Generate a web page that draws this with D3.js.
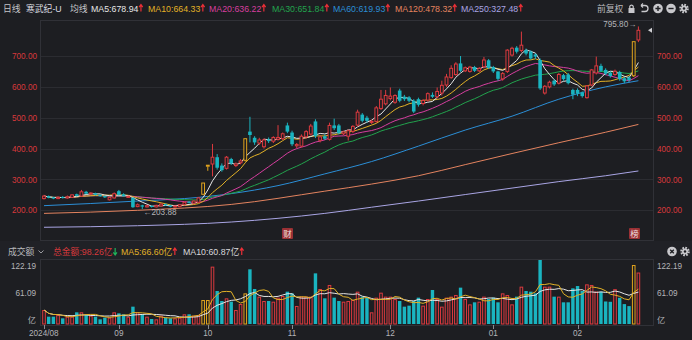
<!DOCTYPE html>
<html><head><meta charset="utf-8">
<script src="https://cdn.jsdelivr.net/npm/d3@7"></script>
<style>
html,body{margin:0;padding:0;background:#1d1e22;}
svg{display:block;}
text{font-family:"Liberation Sans","Noto Sans CJK SC",sans-serif;}
</style></head><body>
<svg id="chart" width="692" height="340"></svg>
<script>
// Daily bars, 2024/08 – 2025/02 (前复权)
const open  = [238,246,242,238,243,240,242,252,246,260,253,255,250,246,234,240,262,252,242,240,
  212,216,211,214,211,214,220,216,211,212,218,228,223,226,252,346.1,350,372,345,336,
  366,345,354,362,455,435,418,406,430,424,430,432,475,452,409,408,438,447,488,427,
  440,430,475,475,448,440,456,476,510,500,485,488,530,545,562,550,588,568,566,555,
  560,546,557,574,568,580,606,630,640,676,652,650,664,652,665,686,664,650,626,650,
  703,727,718,719,714,705,687,580,600,620,612,638,640,590,590,582,565,606,645,668,
  655,645,640,648,628,630,636,752];
const high  = [250,248,244,245,246,248,252,254,266,263,258,257,252,248,244,258,266,255,248,242,
  222,218,218,216,218,223,222,218,216,220,228,230,232,243,288.4,346.1,415,382,352,376,
  370,355,366,432,503,440,435,433,436,440,476,452,484,458,418,446,460,480,495,443,
  446,484,497,480,458,462,476,526,515,506,494,538,590,590,598,576,594,574,570,560,
  565,560,582,582,598,620,642,670,680,700,666,668,668,664,697,690,668,652,648,722,
  730,732,779,724,718,708,692,606,620,624,645,642,645,594,595,585,606,658,698,675,
  660,650,656,652,632,634,746.4,795.8];
const low   = [235,239,236,236,238,238,240,245,244,252,250,248,244,240,232,238,248,244,240,208,
  210,203.88,209,209,209,212,214,210,209,210,216,222,221,224,250,328,310,332,325,332,
  347,340,349,358,420,412,412,400,418,418,426,428,450,408,402,404,432,442,434,420,
  428,426,460,446,444,426,450,472,485,484,480,484,525,540,556,545,550,554,550,515,
  536,540,552,564,562,572,600,626,636,648,648,646,648,648,660,658,645,620,620,645,
  698,708,712,702,688,690,590,575,595,603,608,620,608,560,570,565,562,602,640,648,
  638,630,636,620,612,615,632,745];
const close = [246,241,238,242,240,244,250,247,260,254,256,250,246,242,242,254,250,246,245,210,
  218,212,215,211,216,220,216,212,214,218,226,224,230,240.3,288.4,346.1,372,338,330,372,
  352,350,360,432,444,420,428,428,424,436,436,448,455,414,413,440,455,473,440,438,
  432,475,466,450,454,458,472,518,490,490,488,532,560,572,570,572,555,560,555,520,
  542,556,578,568,585,605,632,660,674,652,662,664,652,660,687,662,650,626,643,719,
  725,714,735,708,692,698,595,601.8,615,608,640,625,612,575,578,570,603.1,655,668,652,
  643,635,650.6,625,618,622,746.4,783.3];
// 成交额, 亿元
const volume = [26.7,14,14,17.2,10.8,14,14,22.3,22.3,17.2,15.9,14,8.9,12.1,12.1,22.3,20.4,18.5,14,33.1,
  22.3,18.5,14,9.5,8.9,15.9,12.1,10.8,10.8,12.1,18.5,18.5,15.9,17.2,45.8,45.8,109.5,63,43.9,49,
  42.6,26.7,38.2,58.5,104.4,66.8,52.2,43.9,43.9,42.6,50.3,53.5,61.7,58.5,34.4,52.2,52.2,52.2,96.7,66.8,
  49,74.5,50.3,43.9,42.6,43.9,45.8,61.7,52.2,50.3,22.3,50.3,59.8,52.2,52.2,47.7,43.9,33.1,35,43.9,
  50.3,35,47.7,64.9,47.7,33.1,50.3,52.2,55.4,69.4,47.7,37.5,41.4,42.6,52.2,47.7,50.3,41.4,58.5,55.4,
  37.5,52.2,71.3,63,61.7,58.5,122.19,71.3,71.3,52.2,52.2,41.4,41.4,68.1,72.5,63,75.7,74.5,62,61.8,
  43,42.4,66.5,50,38,34.14,112.6,98.26];
// 涨停 days (drawn in gold)
const limitUpDays = [34,35,43,126];

// long moving averages, read at these bar indices
const ma60Idx  = [0,10,20,30,40,50,60,70,80,90,100,110,120,127];
const ma60Val  = [215,222,230,238,254,280,318,358,408,460,505,560,600,619.93];
const ma120Idx = [0,20,40,60,70,80,90,100,110,120,127];
const ma120Val = [190,200,219,262,285,312,348,384,419,453,478.32];
const ma250Idx = [0,20,40,60,70,80,90,100,110,120,127];
const ma250Val = [145,150,162,190,210,230,251,272,293,312,327.48];

const monthTickIdx = [0,16,35,53,74,96,114];
const monthLabels = ['2024/08','09','10','11','12','01','02'];
const priceTicks = [200,300,400,500,600,700];
const volTicks = [0,61.09,122.19];

const C = {
  bg:'#1d1e22', grid:'#2b2c31', frame:'#303137',
  up:'#dc3a3f', down:'#1ab4c0', gold:'#e0a31e',
  axisRed:'#d8393c', label:'#b4b4b8', arrowUp:'#ec2f37', arrowDown:'#1fb35a',
  ma5:'#e6e6e6', ma10:'#e2b126', ma20:'#d63e9f', ma30:'#22a34d',
  ma60:'#2b8ed6', ma120:'#e3835f', ma250:'#a9a5e4'
};
const FS_HEAD = 8.8, FS_AXIS = 8.2;

const svg = d3.select('#chart');
const N = close.length;
const idx = d3.range(N);
const plot = {l:40, r:653, t:20, b:240};
const vplot = {t:260, b:324};

const x = d3.scaleLinear().domain([0, N-1]).range([44, 638.4]);
const y = d3.scaleLinear().domain([200, 700]).range([210.3, 56]);
const yv = d3.scaleLinear().domain([0, 122.19]).range([vplot.b, vplot.t]);

function movingAvg(arr, n) {
  return arr.map((_, i) => d3.mean(arr.slice(Math.max(0, i - n + 1), i + 1)));
}
const ma5 = movingAvg(close, 5), ma10 = movingAvg(close, 10),
      ma20 = movingAvg(close, 20), ma30 = movingAvg(close, 30);
const vma5 = movingAvg(volume, 5), vma10 = movingAvg(volume, 10);

// panels
svg.append('rect').attr('x',0).attr('y',241).attr('width',692).attr('height',19).attr('fill','#202126');

const g = svg.append('g');
g.selectAll('.pg').data(priceTicks).enter().append('line')
  .attr('x1', plot.l).attr('x2', plot.r)
  .attr('y1', d => Math.round(y(d)) + 0.5).attr('y2', d => Math.round(y(d)) + 0.5)
  .attr('stroke', C.grid);
function frame(t, b) {
  g.append('rect').attr('x', plot.l + 0.5).attr('y', t + 0.5)
    .attr('width', plot.r - plot.l).attr('height', b - t)
    .attr('fill', 'none').attr('stroke', C.frame);
}
frame(plot.t, plot.b);
frame(vplot.t - 1, vplot.b + 1);

// price axis labels (both sides)
const axL = d3.axisLeft(y).tickValues(priceTicks).tickSize(0).tickPadding(0).tickFormat(d => d.toFixed(2));
const axR = d3.axisRight(y).tickValues(priceTicks).tickSize(0).tickPadding(0).tickFormat(d => d.toFixed(2));
function styleAxis(sel, color) {
  sel.select('.domain').remove();
  sel.selectAll('text').attr('fill', color).attr('font-size', FS_AXIS)
    .attr('font-family', '"Liberation Sans",sans-serif');
}
svg.append('g').attr('transform', 'translate(37,0)').call(axL).call(s => styleAxis(s, C.axisRed));
svg.append('g').attr('transform', 'translate(657,0)').call(axR).call(s => styleAxis(s, C.axisRed));

// volume axis labels
const vfmt = d => d === 0 ? '亿' : d.toFixed(2);
const vLabelY = d => d === 0 ? yv(d) - 4 : (d === 122.19 ? yv(d) + 6 : yv(d) + 1);
[[36,'end'],[657,'start']].forEach(([xx, anchor]) => {
  svg.append('g').selectAll('text').data(volTicks).enter().append('text')
    .attr('x', xx).attr('y', vLabelY).attr('dy', '0.35em')
    .attr('text-anchor', anchor).attr('fill', C.label).attr('font-size', FS_AXIS)
    .text(vfmt);
});

// month ticks and labels
svg.append('g').selectAll('line').data(monthTickIdx).enter().append('line')
  .attr('x1', d => Math.round(x(d)) + 0.5).attr('x2', d => Math.round(x(d)) + 0.5)
  .attr('y1', vplot.b + 1).attr('y2', vplot.b + 5).attr('stroke', '#8a8a90');
svg.append('g').selectAll('text').data(monthTickIdx).enter().append('text')
  .attr('x', (d, k) => k === 0 ? 29 : x(d))
  .attr('y', 336).attr('text-anchor', (d, k) => k === 0 ? 'start' : 'middle')
  .attr('fill', C.label).attr('font-size', FS_AXIS)
  .text((d, k) => monthLabels[k]);

// candle colour
const isLimit = i => limitUpDays.includes(i);
const colorOf = i => isLimit(i) ? C.gold : (close[i] >= open[i] ? C.up : C.down);
const hollow = i => isLimit(i) || close[i] >= open[i];

// volume bars
const vb = svg.append('g');
idx.forEach(i => {
  const cx = x(i), top = yv(volume[i]), h = vplot.b - top;
  if (hollow(i)) {
    vb.append('rect').attr('x', cx - 1.3).attr('y', top + 0.5).attr('width', 2.6)
      .attr('height', Math.max(0, h - 0.5)).attr('fill', 'none').attr('stroke', colorOf(i)).attr('stroke-width', 1);
  } else {
    vb.append('rect').attr('x', cx - 1.7).attr('y', top).attr('width', 3.4)
      .attr('height', h).attr('fill', colorOf(i));
  }
});
const vline = d3.line().x((d, i) => x(i)).y(d => yv(d));
vb.append('path').attr('d', vline(vma10)).attr('fill', 'none').attr('stroke', C.ma5).attr('stroke-width', 1);
vb.append('path').attr('d', vline(vma5)).attr('fill', 'none').attr('stroke', C.ma10).attr('stroke-width', 1);

// moving-average lines
const mg = svg.append('g');
const line = d3.line().x((d, i) => x(i)).y(d => y(d));
const sparse = (ix) => d3.line().x((d, k) => x(ix[k])).y(d => y(d)).curve(d3.curveMonotoneX);
mg.append('path').attr('d', sparse(ma250Idx)(ma250Val)).attr('stroke', C.ma250);
mg.append('path').attr('d', sparse(ma120Idx)(ma120Val)).attr('stroke', C.ma120);
mg.append('path').attr('d', sparse(ma60Idx)(ma60Val)).attr('stroke', C.ma60);
mg.append('path').attr('d', line(ma30)).attr('stroke', C.ma30);
mg.append('path').attr('d', line(ma20)).attr('stroke', C.ma20);
mg.append('path').attr('d', line(ma10)).attr('stroke', C.ma10);
mg.append('path').attr('d', line(ma5)).attr('stroke', C.ma5);
mg.selectAll('path').attr('fill', 'none').attr('stroke-width', 1);

// candles
const cg = svg.append('g');
idx.forEach(i => {
  const cx = x(i), col = colorOf(i);
  const bt = y(Math.max(open[i], close[i])), bb = y(Math.min(open[i], close[i]));
  const bh = Math.max(1, bb - bt);
  if (hollow(i)) {
    cg.append('line').attr('x1', cx).attr('x2', cx).attr('y1', y(high[i])).attr('y2', bt).attr('stroke', col);
    cg.append('line').attr('x1', cx).attr('x2', cx).attr('y1', bt + bh).attr('y2', y(low[i])).attr('stroke', col);
    cg.append('rect').attr('x', cx - 1.4).attr('y', bt).attr('width', 2.8).attr('height', bh)
      .attr('fill', C.bg).attr('stroke', col).attr('stroke-width', 1);
  } else {
    cg.append('line').attr('x1', cx).attr('x2', cx).attr('y1', y(high[i])).attr('y2', y(low[i])).attr('stroke', col);
    cg.append('rect').attr('x', cx - 1.8).attr('y', bt).attr('width', 3.6).attr('height', bh).attr('fill', col);
  }
});

// extreme-price markers
const hiI = d3.maxIndex(high), loI = d3.minIndex(low);
svg.append('text').attr('x', x(hiI) - 2).attr('y', y(high[hiI])).attr('dy', '0.05em')
  .attr('text-anchor', 'end').attr('fill', C.label).attr('font-size', FS_AXIS)
  .text(high[hiI].toFixed(2) + '→');
svg.append('text').attr('x', x(loI) + 1).attr('y', y(low[loI])).attr('dy', '0.7em')
  .attr('fill', C.label).attr('font-size', FS_AXIS)
  .text('←' + low[loI].toFixed(2));
// last price pointer
const ly = y(close[N - 1]);
svg.append('path').attr('d', `M${plot.r - 5},${ly} L${plot.r - 1},${ly - 2.5} L${plot.r - 1},${ly + 2.5} Z`).attr('fill', '#d0d0d4');

// event badges
function badge(i, ch) {
  const cx = Math.round(x(i));
  svg.append('rect').attr('x', cx - 5).attr('y', 228).attr('width', 11).attr('height', 11).attr('rx', 1).attr('fill', '#9a3034');
  svg.append('text').attr('x', cx + 0.5).attr('y', 237.3).attr('text-anchor', 'middle')
    .attr('fill', '#f0e0e0').attr('font-size', 8.5).attr('font-family', '"Noto Sans CJK SC",sans-serif').text(ch);
}
badge(52, '财');
badge(126, '榜');

// small trend arrows drawn after a text element
function trendArrow(parent, textSel, up, color) {
  const node = textSel.node();
  const bx = +textSel.attr('x') + node.getComputedTextLength() + 2.5;
  const by = +textSel.attr('y');
  const top = by - 7, bot = by;
  const d = up
    ? `M${bx},${bot} V${top + 1} M${bx - 1.8},${top + 2.6} L${bx},${top} L${bx + 1.8},${top + 2.6}`
    : `M${bx},${top} V${bot - 1} M${bx - 1.8},${bot - 2.6} L${bx},${bot} L${bx + 1.8},${bot - 2.6}`;
  parent.append('path').attr('d', d).attr('fill', 'none').attr('stroke', color).attr('stroke-width', 1.2);
}

// header legend
const fmt2 = v => v.toFixed(2);
const hdr = svg.append('g').attr('font-size', FS_HEAD);
hdr.append('text').attr('x', 3).attr('y', 11.5).attr('fill', '#c4c4c8').text('日线');
hdr.append('text').attr('x', 26).attr('y', 11.5).attr('fill', '#dedee2').text('寒武纪-U');
hdr.append('text').attr('x', 70).attr('y', 11.5).attr('fill', '#c4c4c8').text('均线');
const legend = [
  {x:91, name:'MA5', v:ma5[N-1], c:C.ma5},
  {x:148, name:'MA10', v:ma10[N-1], c:C.ma10},
  {x:209, name:'MA20', v:ma20[N-1], c:C.ma20},
  {x:272, name:'MA30', v:ma30[N-1], c:C.ma30},
  {x:333, name:'MA60', v:ma60Val[ma60Val.length-1], c:C.ma60},
  {x:395, name:'MA120', v:ma120Val[ma120Val.length-1], c:C.ma120},
  {x:461, name:'MA250', v:ma250Val[ma250Val.length-1], c:C.ma250}
];
legend.forEach(d => {
  const t = hdr.append('text').attr('x', d.x).attr('y', 11.5).attr('fill', d.c).text(`${d.name}:${fmt2(d.v)}`);
  trendArrow(hdr, t, true, C.arrowUp);
});
hdr.append('text').attr('x', 597).attr('y', 11.5).attr('fill', '#b8b8bc').text('前复权');

// toolbar icons
const ic = svg.append('g').attr('fill', '#c8c8cc').attr('stroke', '#c8c8cc');
ic.append('rect').attr('x', 628.5).attr('y', 8).attr('width', 6).attr('height', 5).attr('stroke', 'none');
ic.append('path').attr('d', 'M629.8,8 V6.3 A1.8,1.8 0 0 1 633.2,6.3 V8').attr('fill', 'none').attr('stroke-width', 1.2);
ic.append('path').attr('d', 'M641,5.5 H645 A3,3 0 0 1 645,11.5 H641.5').attr('fill', 'none').attr('stroke-width', 1.3);
ic.append('path').attr('d', 'M641,5.5 L643,3.5 M641,5.5 L643,7.5').attr('fill', 'none').attr('stroke-width', 1.2);
[[658,'+'],[671,'-']].forEach(([cx, s]) => {
  ic.append('circle').attr('cx', cx).attr('cy', 8.5).attr('r', 4.8).attr('stroke', 'none');
  ic.append('path').attr('d', s === '+' ? `M${cx-2.6},8.5 H${cx+2.6} M${cx},5.9 V11.1` : `M${cx-2.6},8.5 H${cx+2.6}`)
    .attr('stroke', C.bg).attr('stroke-width', 1.4);
});
function gear(cx, cy) {
  ic.append('circle').attr('cx', cx).attr('cy', cy).attr('r', 3.6).attr('fill', 'none')
    .attr('stroke-width', 2.4).attr('stroke-dasharray', '1.6 1.2');
  ic.append('circle').attr('cx', cx).attr('cy', cy).attr('r', 3).attr('stroke', 'none');
  ic.append('circle').attr('cx', cx).attr('cy', cy).attr('r', 1.2).attr('fill', C.bg).attr('stroke', 'none');
}
gear(684, 8.5);

// volume header
const vh = svg.append('g').attr('font-size', FS_HEAD);
vh.append('text').attr('x', 8).attr('y', 255).attr('fill', '#b8b8bc').text('成交额');
vh.append('path').attr('d', 'M38.5,250.5 L41,253 L43.5,250.5').attr('fill', 'none').attr('stroke', '#9a9aa0');
const vt = vh.append('text').attr('x', 53).attr('y', 255).attr('fill', C.axisRed).text(`总金额:${fmt2(volume[N-1])}亿`);
trendArrow(vh, vt, false, C.arrowDown);
[{x:121, n:'MA5', v:vma5[N-1], c:C.ma10}, {x:183, n:'MA10', v:vma10[N-1], c:'#d8d8dc'}].forEach(d => {
  const t = vh.append('text').attr('x', d.x).attr('y', 255).attr('fill', d.c).text(`${d.n}:${fmt2(d.v)}亿`);
  trendArrow(vh, t, true, C.arrowUp);
});
ic.append('circle').attr('cx', 672).attr('cy', 251.5).attr('r', 4.8).attr('stroke', 'none');
ic.append('path').attr('d', 'M670.2,249.7 L673.8,253.3 M673.8,249.7 L670.2,253.3').attr('stroke', C.bg).attr('stroke-width', 1.3);
gear(685, 251.5);
</script>
</body></html>
